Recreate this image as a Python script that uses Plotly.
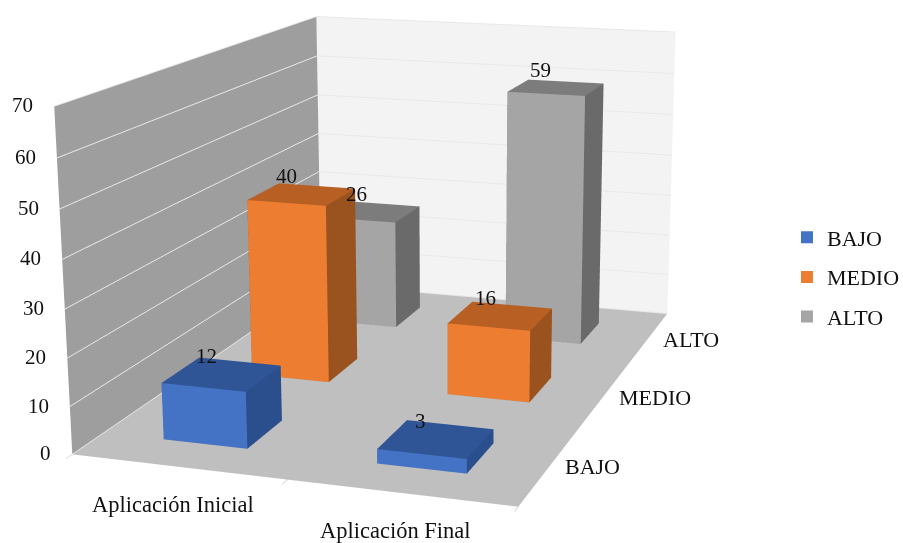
import plotly.graph_objects as go

categories = ["Aplicación Inicial", "Aplicación Final"]
series_names = ["BAJO", "MEDIO", "ALTO"]
bajo = [12, 3]
medio = [40, 16]
alto = [26, 59]
z_ticks = [0, 10, 20, 30, 40, 50, 60, 70]

W, H = 903, 543
FOCAL = 1977.0
VIRTUAL_H = int(round(2 * FOCAL / 2.41421))   # plotly's field of view is fixed: a taller canvas gives a longer lens
SHIFT_Y = VIRTUAL_H // 2 - 270

BAR_W = 0.4
BAR_D = 0.40
BAR_DX = -0.008
styles = [("#4472C4", "#2F5597", "#2B4F8C"), ("#ED7D31", "#B86024", "#9A521F"), ("#A5A5A5", "#7C7C7C", "#6A6A6A")]
values = [bajo, medio, alto]


def cube(xc, yc, v):
    x0, x1 = xc - BAR_W / 2, xc + BAR_W / 2
    y0, y1 = yc - BAR_D / 2, yc + BAR_D / 2
    X = [x0, x1, x1, x0, x0, x1, x1, x0]
    Y = [y0, y0, y1, y1, y0, y0, y1, y1]
    Z = [0, 0, 0, 0, v, v, v, v]
    tri = [(0, 1, 5), (0, 5, 4), (1, 2, 6), (1, 6, 5), (4, 5, 6), (4, 6, 7), (3, 2, 6), (3, 6, 7), (0, 3, 7), (0, 7, 4), (0, 1, 2), (0, 2, 3)]
    return X, Y, Z, tri


fig = go.Figure()
for s, (name, vals, st) in enumerate(zip(series_names, values, styles)):
    X, Y, Z, I, J, K, FC = [], [], [], [], [], [], []
    for c, v in enumerate(vals):
        x, y, z, tri = cube(c + 0.5 + BAR_DX, s + 0.5, v)
        n = len(X)
        X += x; Y += y; Z += z
        for k, t in enumerate(tri):
            I.append(t[0] + n); J.append(t[1] + n); K.append(t[2] + n)
            FC.append(st[0] if k < 2 else st[2] if k < 4 else st[1] if k < 6 else st[2])
    fig.add_trace(go.Mesh3d(x=X, y=Y, z=Z, i=I, j=J, k=K, facecolor=FC, flatshading=True,
                            lighting=dict(ambient=1, diffuse=0, specular=0, roughness=1, fresnel=0),
                            hoverinfo="skip", showlegend=False))
    fig.add_trace(go.Scatter3d(x=[None], y=[None], z=[None], mode="markers", name=name, legendgroup=name,
                               marker=dict(symbol="square", size=12, color=st[0])))

SERIF = "Liberation Serif"
FONT_NUM = dict(family=SERIF, size=21, color="#111111")
FONT_TXT = dict(family=SERIF, size=22, color="#111111")
FONT_CAT = dict(family=SERIF, size=22.5, color="#111111")
ann = []
for v in z_ticks:
    ann.append(dict(x=0, y=0, z=v, text=str(v), showarrow=False, xanchor="right", xshift=-19, yshift=1, font=FONT_NUM))
for c, n in enumerate(categories):
    ann.append(dict(x=c + 0.5, y=0, z=0, text=n, showarrow=False, yshift=-38, xshift=-5, font=FONT_CAT))
for s, n in enumerate(series_names):
    ann.append(dict(x=2, y=s + 0.5, z=0, text=n, showarrow=False, xanchor="left", xshift=13, yshift=-1, font=FONT_TXT))
for s, vals in enumerate(values):
    for c, v in enumerate(vals):
        ann.append(dict(x=c + 0.5, y=s + 0.5, z=v, text=str(v), showarrow=False, xshift=-17, yshift=18, font=FONT_NUM))

ax_common = dict(title="", showticklabels=False, showspikes=False, zeroline=False, showline=False)
fig.update_layout(
    width=W, height=VIRTUAL_H, margin=dict(l=0, r=0, t=0, b=0, autoexpand=False), paper_bgcolor="white",
    legend=dict(x=0.8715, y=1 - (277 + SHIFT_Y) / VIRTUAL_H, xanchor="left", yanchor="middle", font=FONT_TXT,
                bgcolor="rgba(0,0,0,0)", traceorder="grouped", tracegroupgap=8),
    scene=dict(
        domain=dict(x=[0, 1], y=[0, 1]), aspectmode="manual", aspectratio=dict(x=1.315, y=1.934, z=1),
        camera=dict(eye=dict(x=1.977, y=-5.680, z=1.441), center=dict(x=0.149, y=0.045, z=-0.149),
                    up=dict(x=-0.004, y=-0.003, z=1), projection=dict(type="perspective")),
        xaxis=dict(range=[0, 2], tickvals=[0, 1, 2], ticks="outside", ticklen=10, tickwidth=2, tickcolor="#d0d0d0", showgrid=False,
                   showbackground=True, backgroundcolor="#9e9e9e", **ax_common),
        yaxis=dict(range=[0, 3], showgrid=False, showbackground=True, backgroundcolor="#f3f3f3", **ax_common),
        zaxis=dict(range=[0, 70], tickvals=z_ticks, showgrid=True, gridcolor="#e8e8e8", gridwidth=2,
                   showbackground=True, backgroundcolor="#bfbfbf", **ax_common),
        annotations=ann))

post = ("var gd=document.getElementById('{plot_id}');gd.style.position='absolute';gd.style.left='0px';"
        "gd.style.top='-%dpx';document.documentElement.style.overflow='hidden';document.body.style.overflow='hidden';"
        "document.body.style.margin='0';" % SHIFT_Y)
fig.write_html("out.html", post_script=post)
